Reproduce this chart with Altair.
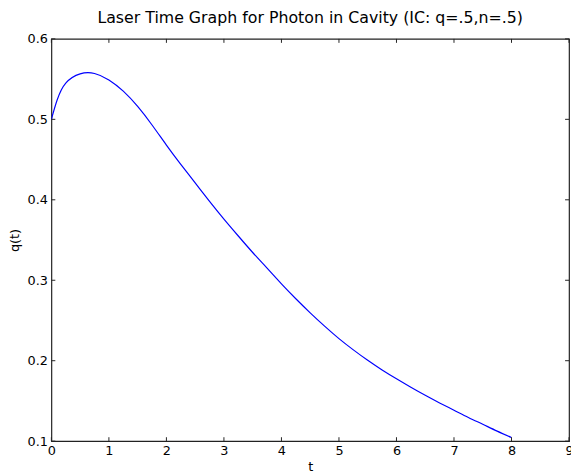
import altair as alt
import pandas as pd

# Data
t_vals = [0, 0.1, 0.25, 0.5, 0.75, 1.0, 1.25, 1.5, 1.75, 2.0, 2.25, 2.5, 2.75,
          3.0, 3.25, 3.5, 3.75, 4.0, 4.25, 4.5, 4.75, 5.0, 5.25, 5.5, 5.75,
          6.0, 6.25, 6.5, 6.75, 7.0, 7.25, 7.5, 7.75, 8.0]
q_vals = [0.500, 0.524, 0.545, 0.5565, 0.557, 0.549, 0.535, 0.516, 0.493,
          0.468, 0.444, 0.421, 0.398, 0.376, 0.355, 0.3345, 0.315, 0.2955,
          0.277, 0.2595, 0.243, 0.2275, 0.2135, 0.2005, 0.1885, 0.1775, 0.167,
          0.157, 0.1475, 0.1385, 0.1295, 0.121, 0.1125, 0.1045]
x_ticks = [0, 1, 2, 3, 4, 5, 6, 7, 8, 9]
y_ticks = [0.1, 0.2, 0.3, 0.4, 0.5, 0.6]

W, H = 525, 408
FONT = "DejaVu Sans"

df = pd.DataFrame({"t": t_vals, "q": q_vals})
xt = pd.DataFrame({"t": x_ticks})
yt = pd.DataFrame({"q": y_ticks})

xscale = alt.Scale(domain=[0, 9], nice=False, zero=False)
yscale = alt.Scale(domain=[0.1, 0.6], nice=False, zero=False)

axis_common = dict(ticks=False, domain=False, grid=False, labelFlush=False,
                   labelFont=FONT, labelFontSize=13, labelColor="black",
                   titleFont=FONT, titleFontSize=13, titleFontWeight="normal",
                   titleColor="black")
x_axis = alt.Axis(values=x_ticks, format="d", labelPadding=4, titlePadding=3,
                  **axis_common)
y_axis = alt.Axis(values=y_ticks, format=".1f", labelPadding=4, titlePadding=6,
                  **axis_common)

line = alt.Chart(df).mark_line(color="#0000ff", strokeWidth=1.2,
                               interpolate="natural", clip=True).encode(
    x=alt.X("t:Q", scale=xscale, title="t", axis=x_axis),
    y=alt.Y("q:Q", scale=yscale, title="q(t)", axis=y_axis),
)

tick_style = dict(color="#222222", strokeWidth=1)
bottom = alt.Chart(xt).mark_rule(**tick_style).encode(
    x=alt.X("t:Q", scale=xscale, title="t", axis=x_axis),
    y=alt.value(H), y2=alt.value(H - 4))
top = alt.Chart(xt).mark_rule(**tick_style).encode(
    x=alt.X("t:Q", scale=xscale, title="t", axis=x_axis),
    y=alt.value(0), y2=alt.value(4))
left = alt.Chart(yt).mark_rule(**tick_style).encode(
    y=alt.Y("q:Q", scale=yscale, title="q(t)", axis=y_axis),
    x=alt.value(0), x2=alt.value(4))
right = alt.Chart(yt).mark_rule(**tick_style).encode(
    y=alt.Y("q:Q", scale=yscale, title="q(t)", axis=y_axis),
    x=alt.value(W), x2=alt.value(W - 4))

chart = alt.layer(line, bottom, top, left, right).properties(
    width=W, height=H,
    title=alt.TitleParams("Laser Time Graph for Photon in Cavity (IC: q=.5,n=.5)",
                          font=FONT, fontSize=16, fontWeight="normal",
                          color="black", anchor="middle", offset=7),
    autosize=alt.AutoSizeParams(type="none"),
    padding={"left": 44, "top": 28, "right": 2, "bottom": 32},
).configure(background="white").configure_view(stroke="#222222", strokeWidth=1.2)

chart.save("out.html", embed_options={"renderer": "svg", "actions": False})
